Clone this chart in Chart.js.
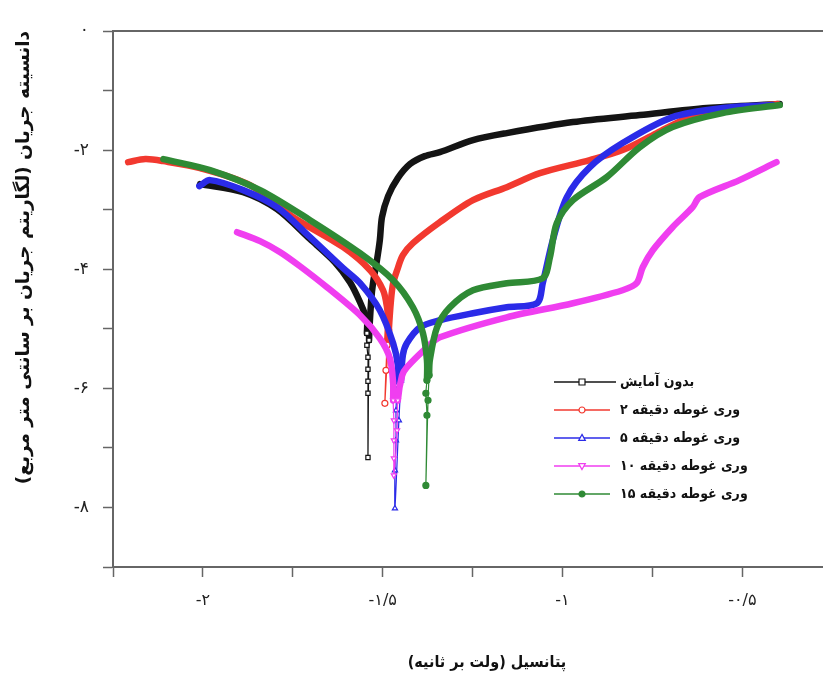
<!DOCTYPE html>
<html lang="fa">
<head>
<meta charset="utf-8">
<title>پتانسیل - دانسیته جریان</title>
<script src="https://cdn.jsdelivr.net/npm/chart.js@4.4.1/dist/chart.umd.min.js"></script>
<style>
  html, body { margin: 0; padding: 0; background: #fff; overflow: hidden; width: 823px; height: 673px; }
  canvas { display: block; }
</style>
</head>
<body>
<canvas id="tafel" width="875" height="673"></canvas>
<script>
// series names (legend)
var seriesNames = ['بدون آمایش', '۲ دقیقه غوطه وری', '۵ دقیقه غوطه وری', '۱۰ دقیقه غوطه وری', '۱۵ دقیقه غوطه وری'];

// potential (V) and log current density
var potBare = [-2.008, -1.888, -1.794, -1.702, -1.633, -1.591, -1.563, -1.544, -1.544, -1.544, -1.541, -1.541, -1.541, -1.541, -1.541, -1.538, -1.532, -1.527, -1.516, -1.508, -1.502, -1.485, -1.458, -1.424, -1.383, -1.341, -1.249, -1.155, -0.971, -0.785, -0.599, -0.396];
var logBare = [-2.571, -2.706, -2.992, -3.496, -3.882, -4.218, -4.555, -4.857, -5.076, -5.277, -5.479, -5.681, -5.882, -6.084, -7.160, -5.193, -4.521, -4.235, -3.849, -3.513, -3.126, -2.773, -2.471, -2.235, -2.101, -2.034, -1.832, -1.714, -1.529, -1.412, -1.294, -1.227];

var pot2 = [-2.208, -2.160, -2.110, -2.008, -1.869, -1.749, -1.610, -1.535, -1.499, -1.488, -1.485, -1.488, -1.491, -1.494, -1.483, -1.477, -1.471, -1.460, -1.444, -1.416, -1.341, -1.249, -1.155, -1.063, -0.924, -0.833, -0.738, -0.646, -0.563, -0.452, -0.402];
var log2 = [-2.202, -2.151, -2.185, -2.303, -2.588, -3.126, -3.630, -4.017, -4.353, -4.639, -4.857, -5.277, -5.697, -6.252, -5.025, -4.521, -4.235, -4.017, -3.765, -3.563, -3.210, -2.840, -2.622, -2.387, -2.168, -2.000, -1.714, -1.445, -1.328, -1.261, -1.227];

var pot5 = [-2.010, -1.980, -1.888, -1.794, -1.702, -1.610, -1.563, -1.508, -1.471, -1.458, -1.460, -1.463, -1.463, -1.466, -1.466, -1.455, -1.449, -1.444, -1.433, -1.396, -1.341, -1.249, -1.155, -1.071, -1.055, -1.027, -0.988, -0.924, -0.833, -0.694, -0.555, -0.416];
var log5 = [-2.605, -2.504, -2.672, -2.958, -3.462, -3.983, -4.235, -4.689, -5.244, -5.613, -5.950, -6.370, -6.874, -7.378, -8.017, -6.538, -5.866, -5.445, -5.244, -4.975, -4.857, -4.739, -4.639, -4.571, -4.235, -3.513, -2.790, -2.286, -1.882, -1.445, -1.294, -1.244];

var pot10 = [-1.905, -1.841, -1.785, -1.730, -1.655, -1.563, -1.508, -1.480, -1.471, -1.471, -1.469, -1.469, -1.469, -1.469, -1.460, -1.458, -1.446, -1.433, -1.377, -1.341, -1.155, -0.971, -0.833, -0.794, -0.777, -0.749, -0.694, -0.638, -0.619, -0.508, -0.405];
var log10 = [-3.378, -3.529, -3.714, -3.950, -4.303, -4.773, -5.160, -5.496, -5.916, -6.202, -6.538, -6.874, -7.176, -7.462, -6.706, -6.202, -5.782, -5.647, -5.311, -5.143, -4.807, -4.571, -4.353, -4.235, -3.966, -3.681, -3.294, -2.958, -2.790, -2.504, -2.202];

var pot15 = [-2.110, -1.980, -1.841, -1.702, -1.563, -1.471, -1.416, -1.388, -1.377, -1.377, -1.380, -1.377, -1.380, -1.374, -1.371, -1.369, -1.349, -1.313, -1.249, -1.155, -1.055, -1.035, -1.016, -0.971, -0.877, -0.785, -0.694, -0.555, -0.396];
var log15 = [-2.151, -2.336, -2.672, -3.176, -3.731, -4.185, -4.639, -5.076, -5.529, -5.866, -6.084, -6.454, -7.630, -6.202, -5.782, -5.529, -4.975, -4.639, -4.353, -4.235, -4.151, -3.798, -3.227, -2.840, -2.454, -1.950, -1.613, -1.378, -1.244];

// tick labels
var xTickValues = [-2, -1.5, -1, -0.5];
var xTickLabels = ['-۲', '-۱/۵', '-۱', '-۰/۵'];
var yTickValues = [0, -2, -4, -6, -8];
var yTickLabels = ['۰', '-۲', '-۴', '-۶', '-۸'];

var RLM = '\u200F', LRM = '\u200E';
var colors = ['#141414', '#f2392f', '#2b2be8', '#f03ef0', '#2f8a35'];
var markers = ['rect', 'circle', 'triangle', 'triangle', 'circle'];
var markerRot = [0, 0, 0, 180, 0];
var markerFill = ['#fff', '#fff', '#fff', '#fff', '#2f8a35'];
var markBelow = [-5.0, -4.9, -5.7, -6.0, -5.7];   // below this the trace is thin with markers
var legendLtrWords = [false, true, true, true, true]; // numbered entries are set word by word left to right

function toPoints(xs, ys) {
  return xs.map(function (x, i) { return { x: x, y: ys[i] }; });
}

function wordsLtr(s) {
  return LRM + s.split(' ').join(' ' + LRM);
}

function labelFor(values, labels) {
  return function (v) {
    for (var i = 0; i < values.length; i++) {
      if (Math.abs(values[i] - v) < 1e-6) return labels[i];
    }
    return '';
  };
}

var allPots = [potBare, pot2, pot5, pot10, pot15];
var allLogs = [logBare, log2, log5, log10, log15];

var datasets = seriesNames.map(function (name, i) {
  var thr = markBelow[i];
  return {
    label: name,
    data: toPoints(allPots[i], allLogs[i]),
    borderColor: colors[i],
    pointBorderColor: colors[i],
    pointBackgroundColor: markerFill[i],
    pointStyle: markers[i],
    pointRotation: markerRot[i],
    pointBorderWidth: 1.2,
    pointRadius: function (ctx) { return ctx.raw && ctx.raw.y < thr ? 3 : 0; },
    pointHoverRadius: 0,
    borderWidth: 6.5,
    borderJoinStyle: 'round',
    borderCapStyle: 'round',
    tension: 0.3,
    fill: false,
    order: 4 - i,
    segment: {
      borderWidth: function (ctx) {
        return (ctx.p0.parsed.y < thr && ctx.p1.parsed.y < thr) ? 1.2 : 6.5;
      }
    }
  };
});

function drawMarker(ctx, style, rot, x, y, r, stroke, fill) {
  ctx.save();
  ctx.translate(x, y);
  ctx.rotate(rot * Math.PI / 180);
  ctx.beginPath();
  if (style === 'rect') {
    ctx.rect(-r, -r, 2 * r, 2 * r);
  } else if (style === 'triangle') {
    ctx.moveTo(0, -r * 1.2);
    ctx.lineTo(r * 1.1, r * 0.8);
    ctx.lineTo(-r * 1.1, r * 0.8);
    ctx.closePath();
  } else {
    ctx.arc(0, 0, r, 0, Math.PI * 2);
  }
  ctx.fillStyle = fill;
  ctx.fill();
  ctx.lineWidth = 1.2;
  ctx.strokeStyle = stroke;
  ctx.stroke();
  ctx.restore();
}

var legendBox = {
  id: 'legendBox',
  afterDatasetsDraw: function (chart) {
    var ctx = chart.ctx;
    ctx.save();
    chart.data.datasets.forEach(function (ds, i) {
      var y = 382 + i * 28;
      ctx.strokeStyle = ds.borderColor;
      ctx.lineWidth = 1.4;
      ctx.beginPath();
      ctx.moveTo(554, y);
      ctx.lineTo(i === 0 ? 616 : 610, y);
      ctx.stroke();
      drawMarker(ctx, markers[i], markerRot[i], 582, y, 3, ds.borderColor, markerFill[i]);
      ctx.fillStyle = '#111';
      ctx.font = 'bold 14px "DejaVu Sans Condensed", "DejaVu Sans"';
      ctx.textAlign = 'left';
      ctx.textBaseline = 'middle';
      ctx.fillText(legendLtrWords[i] ? wordsLtr(ds.label) : ds.label, 620, y);
    });
    ctx.restore();
  }
};

var axisColor = '#666';

new Chart(document.getElementById('tafel').getContext('2d'), {
  type: 'line',
  data: { datasets: datasets },
  options: {
    responsive: false,
    animation: false,
    devicePixelRatio: 1,
    layout: { padding: { top: 31, left: 0, right: 0, bottom: 0 } },
    plugins: {
      legend: { display: false },
      tooltip: { enabled: false }
    },
    scales: {
      x: {
        type: 'linear',
        position: 'bottom',
        min: -2.25,
        max: -0.17,
        afterFit: function (s) { s.height = 106; },
        border: { color: axisColor, width: 2 },
        grid: { drawOnChartArea: false, tickLength: 10, color: axisColor, tickWidth: 1.5 },
        ticks: {
          stepSize: 0.25,
          autoSkip: false,
          maxRotation: 0,
          padding: 14,
          color: '#222',
          font: { family: 'DejaVu Sans', size: 16 },
          callback: labelFor(xTickValues, xTickLabels)
        },
        title: {
          display: true,
          text: RLM + 'پتانسیل (ولت بر ثانیه)' + RLM,
          color: '#111',
          font: { family: '"DejaVu Sans Condensed", "DejaVu Sans"', size: 16, weight: 'bold' },
          padding: { top: 0, bottom: 1 }
        }
      },
      xTop: {
        type: 'linear',
        position: 'top',
        min: -2.25,
        max: -0.17,
        afterFit: function (s) { s.height = 0; },
        border: { color: axisColor, width: 2 },
        grid: { drawOnChartArea: false, drawTicks: false },
        ticks: { display: false }
      },
      y: {
        type: 'linear',
        min: -9,
        max: 0,
        afterFit: function (s) { s.width = 113; },
        border: { color: axisColor, width: 2 },
        grid: { drawOnChartArea: false, tickLength: 10, color: axisColor, tickWidth: 1.5 },
        ticks: {
          stepSize: 1,
          autoSkip: false,
          padding: 14,
          color: '#222',
          font: { family: 'DejaVu Sans', size: 17 },
          callback: labelFor(yTickValues, yTickLabels)
        },
        title: {
          display: true,
          align: 'end',
          text: RLM + 'دانسیته جریان (لگاریتم جریان بر سانتی متر مربع)' + RLM,
          color: '#111',
          font: { family: 'DejaVu Sans', size: 18.5, weight: 'bold' },
          padding: { top: 13, bottom: 0 }
        }
      }
    }
  },
  plugins: [legendBox]
});
</script>
</body>
</html>
